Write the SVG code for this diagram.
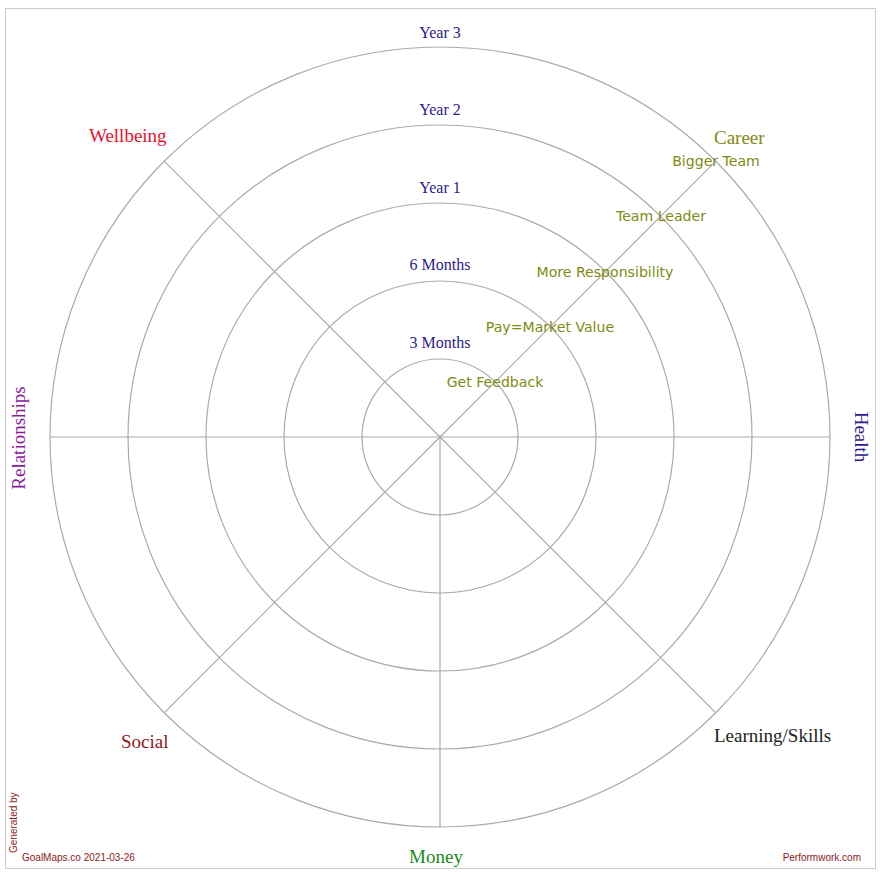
<svg xmlns="http://www.w3.org/2000/svg" width="882" height="877" viewBox="0 0 882 877">
<style>
.ring{fill:none;stroke:#aaaaaa;stroke-width:1.2}
.spoke{stroke:#aaaaaa;stroke-width:1.2}
.tm{font-family:"Liberation Serif",serif;font-size:16px;fill:#2b1b8f;text-anchor:middle}
.cat{font-family:"Liberation Serif","DejaVu Serif",serif;font-size:19px}
.goal{font-family:"DejaVu Sans",Verdana,sans-serif;font-size:14.1px;fill:#7f8a12;text-anchor:middle}
.foot{font-family:"Liberation Sans",Arial,sans-serif;font-size:10px;fill:#8b1a1a}
</style>
<rect x="5.5" y="8.5" width="870" height="860" fill="#ffffff" stroke="#cccccc" stroke-width="1"/>
<g id="rings">
<circle class="ring" cx="440" cy="437" r="78"/>
<circle class="ring" cx="440" cy="437" r="156"/>
<circle class="ring" cx="440" cy="437" r="234"/>
<circle class="ring" cx="440" cy="437" r="312"/>
<circle class="ring" cx="440" cy="437" r="390"/>
</g>
<g id="connectors">
<line class="spoke" x1="440" y1="437" x2="830" y2="437"/>
<line class="spoke" x1="440" y1="437" x2="50" y2="437"/>
<line class="spoke" x1="440" y1="437" x2="440" y2="827"/>
<line class="spoke" x1="440" y1="437" x2="715.8" y2="161.2"/>
<line class="spoke" x1="440" y1="437" x2="164.2" y2="161.2"/>
<line class="spoke" x1="440" y1="437" x2="164.2" y2="712.8"/>
<line class="spoke" x1="440" y1="437" x2="715.8" y2="712.8"/>
</g>
<g id="timeline">
<text class="tm" x="440" y="38">Year 3</text>
<text class="tm" x="440" y="115">Year 2</text>
<text class="tm" x="440" y="193">Year 1</text>
<text class="tm" x="440" y="270">6 Months</text>
<text class="tm" x="440" y="348">3 Months</text>
</g>
<g id="career"><text class="cat" x="714" y="144" fill="#7f8a12">Career</text></g>
<g id="wellbeing"><text class="cat" x="89" y="142" fill="#e8112d">Wellbeing</text></g>
<g id="relationships"><text class="cat" transform="translate(25,438) rotate(-90)" text-anchor="middle" fill="#8b1a9b">Relationships</text></g>
<g id="health"><text class="cat" transform="translate(855,437) rotate(90)" text-anchor="middle" fill="#2b1b8f">Health</text></g>
<g id="learning"><text class="cat" x="714" y="742" fill="#222222">Learning/Skills</text></g>
<g id="money"><text class="cat" x="436" y="863" text-anchor="middle" fill="#1a8a1a">Money</text></g>
<g id="social"><text class="cat" x="121" y="748" fill="#8b1a1a">Social</text></g>
<g id="goals">
<text class="goal" x="716" y="166">Bigger Team</text>
<text class="goal" x="661" y="221">Team Leader</text>
<text class="goal" x="605" y="277">More Responsibility</text>
<text class="goal" x="550" y="332">Pay=Market Value</text>
<text class="goal" x="495" y="387">Get Feedback</text>
</g>
<g id="footer">
<text class="foot" transform="translate(17,853) rotate(-90)">Generated by</text>
<text class="foot" x="22" y="861">GoalMaps.co 2021-03-26</text>
<text class="foot" x="861" y="861" text-anchor="end">Performwork.com</text>
</g>
</svg>
